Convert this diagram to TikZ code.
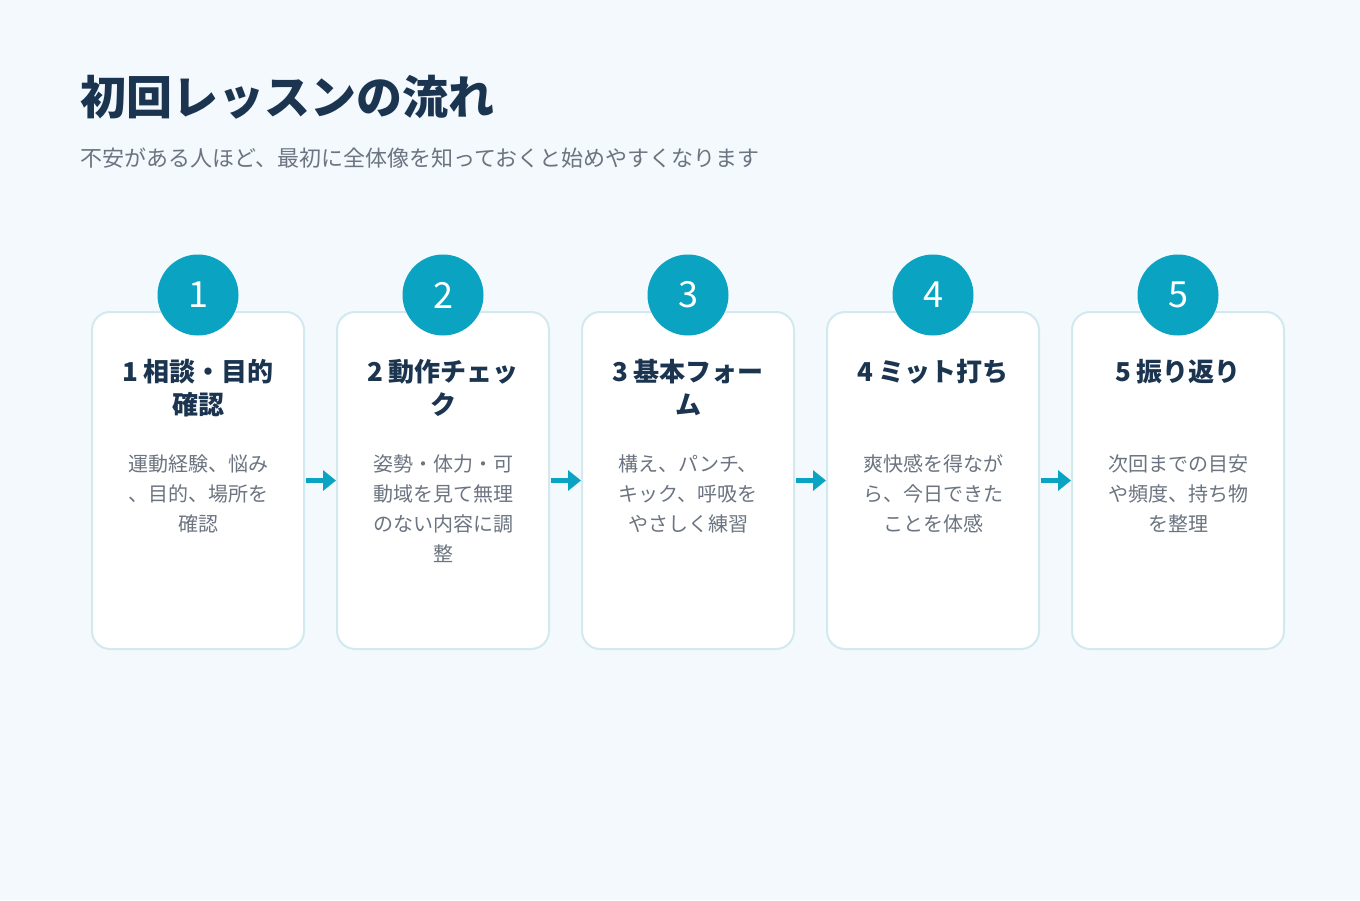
\documentclass[tikz,border=0pt]{standalone}
\usepackage{fontspec}
\setmainfont{Noto Sans CJK JP}
\usetikzlibrary{arrows.meta}
\definecolor{bgpale}{HTML}{F3F9FC}
\definecolor{navy}{HTML}{1B3550}
\definecolor{teal}{HTML}{0AA3C2}
\definecolor{edge}{HTML}{D3E9F0}
\definecolor{muted}{HTML}{6B7480}
\tikzset{
  card/.style={draw=edge, line width=2pt, fill=white, rounded corners=18pt,
    minimum width=212pt, minimum height=337pt},
  badge/.style={circle, fill=teal, minimum size=81pt, inner sep=0pt,
    text=white, font=\fontsize{36}{40}\selectfont},
  cardtitle/.style={anchor=north, align=center, text=navy, inner sep=0pt,
    font=\fontsize{26}{33}\selectfont\bfseries},
  carddesc/.style={anchor=north, align=center, text=muted, inner sep=0pt,
    font=\fontsize{20}{30}\selectfont},
  flow/.style={teal, line width=5pt, -{Triangle[length=13pt,width=20pt]}, shorten <=1pt}
}
\begin{document}
\begin{tikzpicture}[x=1pt,y=-1pt]
\fill[bgpale] (0,0) rectangle (1360,900);
\useasboundingbox (0,0) rectangle (1360,900);

% heading
\node[anchor=west, inner sep=0pt, text=navy, font=\fontsize{46}{50}\selectfont\bfseries] (title) at (80,97) {初回レッスンの流れ};
\node[anchor=west, inner sep=0pt, text=muted, font=\fontsize{22}{26}\selectfont] (subtitle) at (80,158) {不安がある人ほど、最初に全体像を知っておくと始めやすくなります};

% steps
\foreach \i/\ttl/\dsc in {
  1/{1 相談・目的\\確認}/{運動経験、悩み\\、目的、場所を\\確認},
  2/{2 動作チェッ\\ク}/{姿勢・体力・可\\動域を見て無理\\のない内容に調\\整},
  3/{3 基本フォー\\ム}/{構え、パンチ、\\キック、呼吸を\\やさしく練習},
  4/{4 ミット打ち}/{爽快感を得なが\\ら、今日できた\\ことを体感},
  5/{5 振り返り}/{次回までの目安\\や頻度、持ち物\\を整理}} {
  \node[card] (card\i) at ({198+245*(\i-1)},480.5) {};
  \node[badge] (num\i) at ({198+245*(\i-1)},295) {\i};
  \node[cardtitle] (head\i) at ({198+245*(\i-1)},359) {\ttl};
  \node[carddesc] (text\i) at ({198+245*(\i-1)},454) {\dsc};
}

% connectors
\foreach \i [evaluate=\i as \j using int(\i+1)] in {1,...,4}
  \draw[flow] (card\i.east) -- (card\j.west);
\end{tikzpicture}
\end{document}
